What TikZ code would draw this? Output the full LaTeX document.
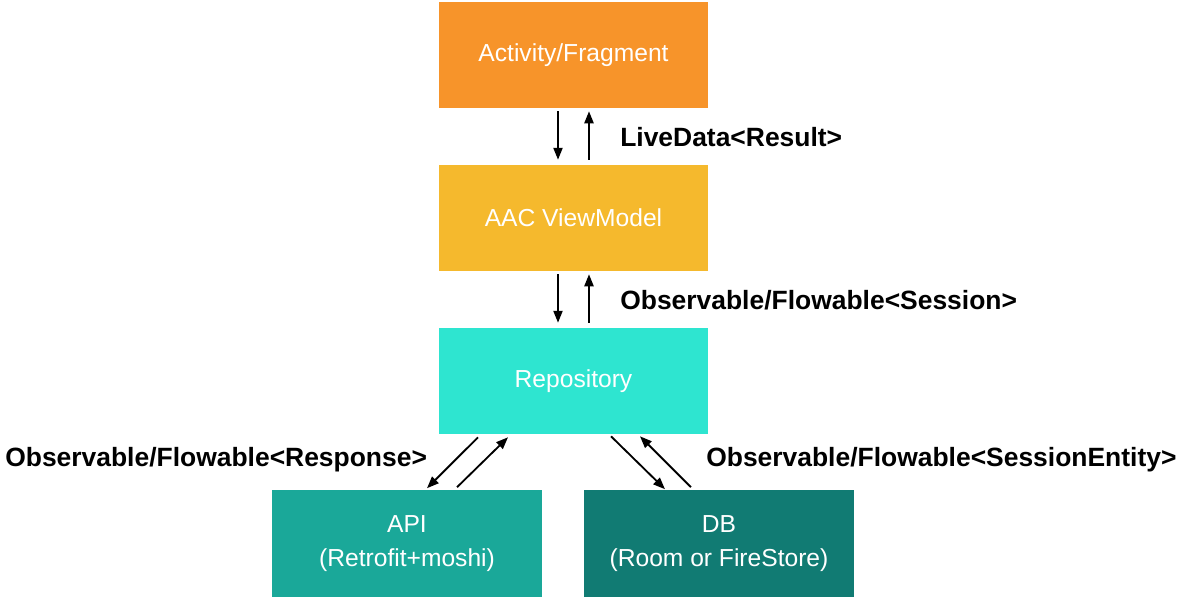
\documentclass[tikz,border=0pt]{standalone}
\usepackage{fontspec}
\setmainfont{Liberation Sans}
\usetikzlibrary{arrows.meta,calc}
\definecolor{cAF}{RGB}{247,148,42}
\definecolor{cVM}{RGB}{245,185,45}
\definecolor{cRP}{RGB}{46,229,208}
\definecolor{cAPI}{RGB}{26,168,153}
\definecolor{cDB}{RGB}{17,123,115}
\tikzset{
  box/.style={draw=none, minimum width=6.725cm, minimum height=2.65cm, inner sep=0pt, text=white, align=center,
    font=\fontsize{17.5}{24}\selectfont},
  lbl/.style={anchor=west, inner sep=0pt, font=\fontsize{18.8}{22}\selectfont\bfseries},
  arr/.style={-{Triangle[length=8.5pt,width=6.5pt]}, line width=1.3pt, black}
}
\begin{document}
\begin{tikzpicture}[x=0.025cm,y=-0.025cm]
\useasboundingbox (0,0) rectangle (1183,600);
\node[box, fill=cAF] (af) at (573.5,55) {\raisebox{-2.5pt}{Activity/Fragment}};
\node[box, fill=cVM] (vm) at (573.5,218) {\raisebox{-1.5pt}{AAC ViewModel}};
\node[box, fill=cRP] (rp) at (573.5,381) {\raisebox{-1.5pt}{Repository}};
\node[box, fill=cAPI] (api) at (407,543.5) {\raisebox{-3.5pt}{API}\\\raisebox{-3.5pt}{(Retrofit+moshi)}};
\node[box, fill=cDB] (db) at (719,543.5) {\raisebox{-3.5pt}{DB}\\\raisebox{-3.5pt}{(Room or FireStore)}};
\draw[arr] ($(af.south)+(-15.5,3)$) -- ($(vm.north)+(-15.5,-5)$);
\draw[arr] ($(vm.north)+(15.5,-5)$) -- ($(af.south)+(15.5,3)$);
\draw[arr] ($(vm.south)+(-15.5,3)$) -- ($(rp.north)+(-15.5,-5)$);
\draw[arr] ($(rp.north)+(15.5,-5)$) -- ($(vm.south)+(15.5,3)$);
\draw[arr] ($(rp.south)+(-95.5,3)$) -- ($(api.north)+(20,-2)$);
\draw[arr] ($(api.north)+(50,-3)$) -- ($(rp.south)+(-65.5,3)$);
\draw[arr] ($(rp.south)+(37.5,2)$) -- ($(db.north)+(-54,-1)$);
\draw[arr] ($(db.north)+(-28,-3)$) -- ($(rp.south)+(66.5,2)$);
\node[lbl] (l1) at (620,137) {LiveData<Result>};
\node[lbl] (l2) at (620,300) {Observable/Flowable<Session>};
\node[lbl] (l3) at (5,460) {Observable/Flowable<Response>};
\node[lbl] (l4) at (706,460) {Observable/Flowable<SessionEntity>};
\end{tikzpicture}
\end{document}
